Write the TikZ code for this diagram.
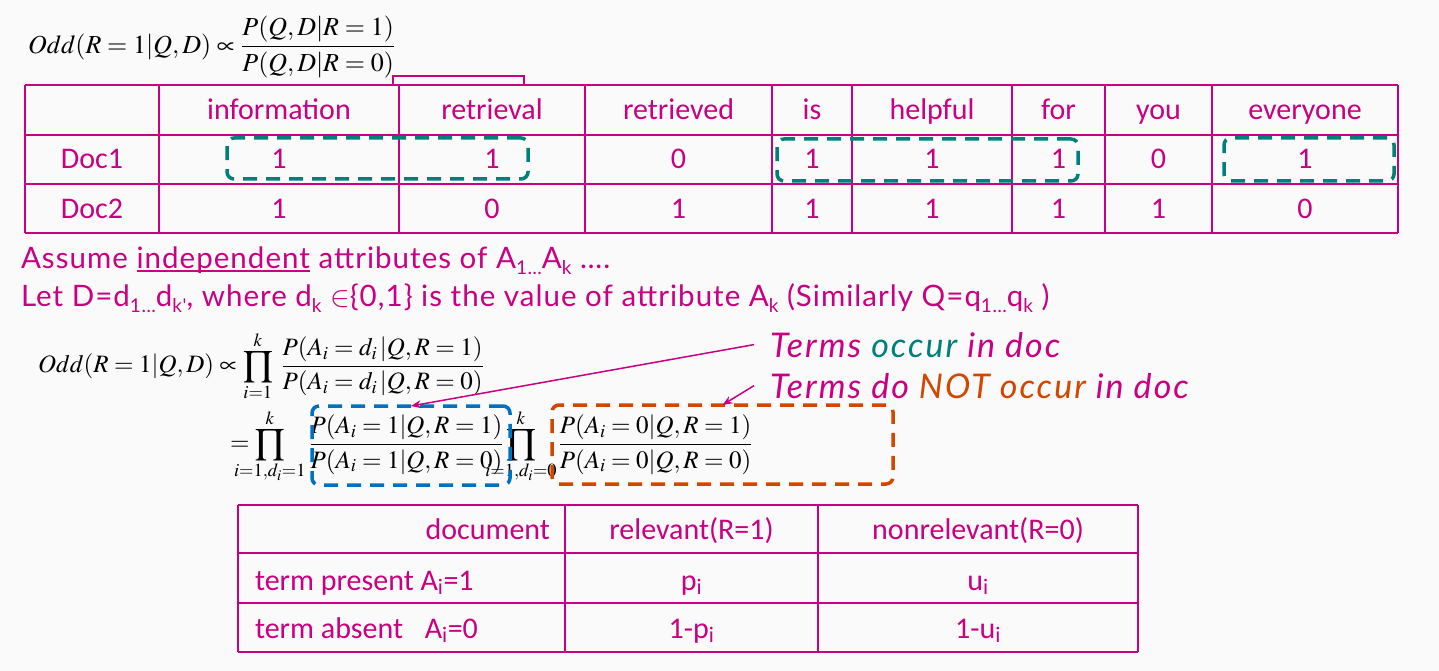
\documentclass[tikz,border=0pt]{standalone}
\usepackage{mathptmx}
\usepackage{mathtools}
\usepackage{fontspec}
\newfontfamily\tabfont{Carlito}
\newfontfamily\slidefont[LetterSpace=3.5]{Lato}
\newfontfamily\termfont[LetterSpace=6]{Lato}
\usetikzlibrary{positioning,arrows.meta}
\definecolor{slidepink}{RGB}{200,0,130}
\definecolor{slideteal}{RGB}{0,128,122}
\definecolor{slideorange}{RGB}{210,70,0}
\definecolor{slideblue}{RGB}{0,112,192}
\definecolor{slidebg}{RGB}{250,250,250}
\newcommand\ulword[1]{\setbox0\hbox{#1}\rlap{\rule[-4pt]{\wd0}{2.2pt}}\box0\relax}
\newcommand\lowsub[1]{\raisebox{-6pt}{\fontsize{19}{20}\selectfont #1}}

\begin{document}
\begin{tikzpicture}[x=1pt,y=-1pt,
        every node/.style = {inner sep=0pt,outer sep=0pt},
        tabline/.style = {color=slidepink,line width=2.5pt},
        cell/.style = {anchor=base,text=slidepink,font=\tabfont\fontsize{30}{36}\selectfont},
        formula/.style = {anchor=west,font=\fontsize{25}{30}\selectfont},
        slidetext/.style = {anchor=base west,text=slidepink,font=\slidefont\fontsize{29.5}{34}\selectfont},
        termtext/.style = {anchor=base west,text=slidepink,font=\termfont\itshape\fontsize{34}{40}\selectfont},
        hitbox/.style = {draw=#1,line width=3.5pt,dash pattern=on 14pt off 9pt,rounded corners=7pt},
        pointer/.style = {draw=slidepink,line width=1.5pt,-{Stealth[length=10pt,width=8pt]}},
        ]
        \fill[slidebg] (0,0) rectangle (1439,671);
        \useasboundingbox (0,0) rectangle (1439,671);
        % first odds formula
        \node[formula,font=\fontsize{26}{31}\selectfont] (odd-top) at (28,47)
            {$\displaystyle Odd(R=1|Q,D)\propto\frac{P(Q,D|R=1)}{P(Q,D|R=0)}$};
        \draw[color=slidepink,line width=1.5pt] (393,85) -- (393,76) -- (524,76) -- (524,85);
        % term table
        \foreach \y in {85,135,184,233}
            \draw[tabline] (25,\y) -- (1398,\y);
        \foreach \x in {25,159,399,585,772,852,1012,1105,1212,1398}
            \draw[tabline] (\x,85) -- (\x,233);
        \foreach \w/\x [count=\i] in {information/279,retrieval/492,retrieved/678.5,is/812,
            helpful/932,for/1058.5,you/1158.5,everyone/1305}
            \node[cell] (head-\i) at (\x,120) {\w};
        \node[cell] (doc-1) at (92,169) {Doc1};
        \node[cell] (doc-2) at (92,218) {Doc2};
        \foreach \v/\x [count=\i] in {1/279,1/492,0/678.5,1/812,1/932,1/1058.5,0/1158.5,1/1305}
            \node[cell] (val-1-\i) at (\x,169) {\v};
        \foreach \v/\x [count=\i] in {1/279,0/492,1/678.5,1/812,1/932,1/1058.5,1/1158.5,0/1305}
            \node[cell] (val-2-\i) at (\x,218) {\v};
        \node[hitbox=slideteal,minimum width=301pt,minimum height=41pt] (hit-1) at (377.5,158.5) {};
        \node[hitbox=slideteal,minimum width=301pt,minimum height=42pt] (hit-2) at (927.5,160) {};
        \node[hitbox=slideteal,minimum width=170pt,minimum height=43pt] (hit-3) at (1309,159.5) {};
        % assumptions
        \node[slidetext] (assume) at (21,268)
            {Assume \ulword{independent} attributes of A\lowsub{1…}A\lowsub{k} ….};
        \node[slidetext] (letd) at (21,306)
            {Let D=d\lowsub{1…}d\lowsub{k'}, where d\lowsub{k} $\in$\{0,1\} is the value of attribute A\lowsub{k} (Similarly Q=q\lowsub{1…}q\lowsub{k} )};
        % product formulas
        \node[formula] (odd-prod) at (38,366)
            {$\displaystyle Odd(R=1|Q,D)\propto\prod_{i=1}^{k}\hspace{6pt}\frac{P(A_i=d_i\,|Q,R=1)}{P(A_i=d_i\,|Q,R=0)}$};
        \node[formula] (odd-split) at (230,446)
            {$\displaystyle =\prod_{\mathclap{i=1,d_i=1}}^{k}\hspace{22pt}\frac{P(A_i=1|Q,R=1)}{P(A_i=1|Q,R=0)}\prod_{\mathclap{i=1,d_i=0}}^{k}\hspace{20pt}\frac{P(A_i=0|Q,R=1)}{P(A_i=0|Q,R=0)}$};
        \node[hitbox=slideblue,minimum width=198pt,minimum height=79pt] (box-in) at (411,445.5) {};
        \node[hitbox=slideorange,minimum width=341pt,minimum height=79pt] (box-out) at (722.5,444.5) {};
        \node[termtext] (terms-in) at (770,357) {Terms \textcolor{slideteal}{occur} in doc};
        \node[termtext] (terms-out) at (770,398) {Terms do \textcolor{slideorange}{NOT occur} in doc};
        \draw[pointer] ([xshift=-16pt]terms-in.west) -- (box-in.north);
        \draw[pointer] ([xshift=-16pt]terms-out.west) -- (box-out.north);
        % probability table
        \foreach \y in {505,553,603,652}
            \draw[tabline] (238,\y) -- (1138,\y);
        \foreach \x in {238,565,818,1138}
            \draw[tabline] (\x,505) -- (\x,652);
        \node[cell,anchor=base east] (doc-head) at (550,539) {document};
        \node[cell] (rel-head) at (691.5,539) {relevant(R=1)};
        \node[cell] (nonrel-head) at (978,539) {nonrelevant(R=0)};
        \node[cell,anchor=base west] (present) at (255,590) {term present A\textsubscript{i}=1};
        \node[cell] (p-val) at (691.5,590) {p\textsubscript{i}};
        \node[cell] (u-val) at (978,590) {u\textsubscript{i}};
        \node[cell,anchor=base west] (absent) at (255,638) {term absent\enspace\ A\textsubscript{i}=0};
        \node[cell] (p-neg) at (691.5,638) {1-p\textsubscript{i}};
        \node[cell] (u-neg) at (978,638) {1-u\textsubscript{i}};
\end{tikzpicture}
\end{document}
